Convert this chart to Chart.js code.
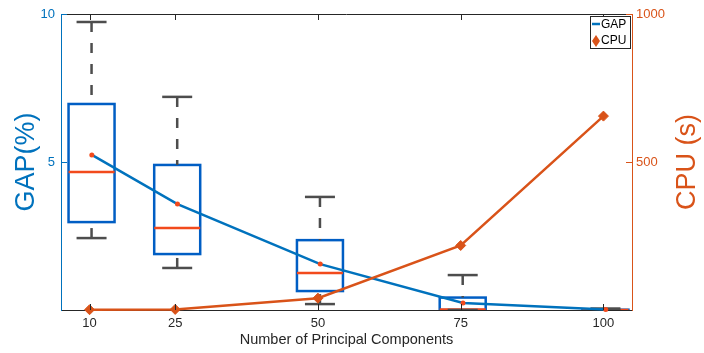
<!DOCTYPE html>
<html>
<head>
<meta charset="utf-8">
<script src="https://cdn.jsdelivr.net/npm/chart.js@4.4.1/dist/chart.umd.min.js"></script>
<style>
  html, body { margin: 0; padding: 0; background: #fff; }
  canvas { display: block; }
</style>
</head>
<body>
<canvas id="myChart" width="704" height="353"></canvas>
<script>
/* global Chart */
const FONT = "'Liberation Sans', Arial, Helvetica, sans-serif";
const BLUE = '#0072BD';
const ORANGE = '#D95319';
const BOXBLUE = '#005ec4';
const MEDRED = '#f24a1c';
const WHISKER = '#4d4d4d';
const AXISGRAY = '#262626';

// data
const components = [10, 25, 50, 75, 100];
const gapMax = [9.73, 7.2, 3.82, 1.18, 0.05];
const gapQ3 = [6.96, 4.9, 2.36, 0.42, 0.01];
const gapMedian = [4.66, 2.77, 1.25, 0.02, 0];
const gapQ1 = [2.97, 1.89, 0.64, 0, 0];
const gapMin = [2.43, 1.42, 0.2, 0, 0];
const gapMean = [5.24, 3.58, 1.55, 0.24, 0.02];
const cpuTime = [1, 2, 40, 218, 655];

const xTicks = [10, 25, 50, 75, 100];
const gapTicks = [5, 10];
const cpuTicks = [500, 1000];

function hLine(ctx, x1, x2, y) {
  ctx.beginPath();
  ctx.moveTo(x1, y);
  ctx.lineTo(x2, y);
  ctx.stroke();
}

function vLine(ctx, x, y1, y2) {
  ctx.beginPath();
  ctx.moveTo(x, y1);
  ctx.lineTo(x, y2);
  ctx.stroke();
}

const boxPlugin = {
  id: 'boxes',
  beforeDatasetsDraw(chart) {
    const { ctx, chartArea, scales } = chart;
    const x = scales.x;
    const y = scales.y;
    ctx.save();
    ctx.beginPath();
    ctx.rect(chartArea.left, chartArea.top - 2, chartArea.width, chartArea.height + 2);
    ctx.clip();
    components.forEach((c, i) => {
      const cx = x.getPixelForValue(c) + 2;
      const half = 23;
      const cap = 15;
      const yMax = y.getPixelForValue(gapMax[i]);
      const yQ3 = y.getPixelForValue(gapQ3[i]);
      const yMed = y.getPixelForValue(gapMedian[i]);
      const yQ1 = y.getPixelForValue(gapQ1[i]);
      const yMin = y.getPixelForValue(gapMin[i]);

      ctx.lineWidth = 2.5;
      ctx.strokeStyle = BOXBLUE;
      ctx.strokeRect(cx - half, yQ3, half * 2, yQ1 - yQ3);

      ctx.strokeStyle = MEDRED;
      hLine(ctx, cx - half, cx + half, yMed);

      ctx.strokeStyle = WHISKER;
      ctx.setLineDash([10, 11]);
      vLine(ctx, cx, yMax, yQ3);
      vLine(ctx, cx, yMin, yQ1);
      ctx.setLineDash([]);
      hLine(ctx, cx - cap, cx + cap, yMax);
      hLine(ctx, cx - cap, cx + cap, yMin);
    });
    ctx.restore();
  },
  afterDraw(chart) {
    const { ctx, chartArea, scales } = chart;
    const { left, right, top, bottom } = chartArea;
    ctx.save();

    // top border
    ctx.lineWidth = 1;
    ctx.strokeStyle = AXISGRAY;
    hLine(ctx, left, right, top + 0.5);

    // inward tick marks
    xTicks.forEach((t) => {
      const px = Math.round(scales.x.getPixelForValue(t)) + 0.5;
      vLine(ctx, px, top, top + 6);
      vLine(ctx, px, bottom, bottom - 6);
    });
    ctx.strokeStyle = BLUE;
    gapTicks.forEach((t) => {
      const py = Math.round(scales.y.getPixelForValue(t)) + 0.5;
      hLine(ctx, left, left + 6, py);
    });
    ctx.strokeStyle = ORANGE;
    cpuTicks.forEach((t) => {
      const py = Math.round(scales.y1.getPixelForValue(t)) + 0.5;
      hLine(ctx, right, right - 6, py);
    });

    // axis titles
    ctx.textAlign = 'center';
    ctx.textBaseline = 'middle';
    const midY = (top + bottom) / 2;
    ctx.font = `27px ${FONT}`;
    ctx.fillStyle = BLUE;
    ctx.save();
    ctx.translate(27, midY);
    ctx.rotate(-Math.PI / 2);
    ctx.fillText('GAP(%)', 0, 0);
    ctx.restore();
    ctx.fillStyle = ORANGE;
    ctx.save();
    ctx.translate(688, midY);
    ctx.rotate(-Math.PI / 2);
    ctx.fillText('CPU (s)', 0, 0);
    ctx.restore();

    ctx.font = `14.5px ${FONT}`;
    ctx.fillStyle = AXISGRAY;
    ctx.fillText('Number of Principal Components', (left + right) / 2, 340);

    // legend
    const lx = 590;
    const ly = 16;
    ctx.fillStyle = '#fff';
    ctx.fillRect(lx, ly, 40, 32);
    ctx.strokeStyle = AXISGRAY;
    ctx.lineWidth = 1;
    ctx.strokeRect(lx + 0.5, ly + 0.5, 40, 32);
    ctx.strokeStyle = BLUE;
    ctx.lineWidth = 2.5;
    hLine(ctx, lx + 2, lx + 10, ly + 8);
    ctx.fillStyle = ORANGE;
    ctx.beginPath();
    ctx.moveTo(lx + 6, ly + 19);
    ctx.lineTo(lx + 10, ly + 25);
    ctx.lineTo(lx + 6, ly + 31);
    ctx.lineTo(lx + 2, ly + 25);
    ctx.closePath();
    ctx.fill();
    ctx.fillStyle = '#000';
    ctx.font = `12px ${FONT}`;
    ctx.textAlign = 'left';
    ctx.fillText('GAP', lx + 11, ly + 9);
    ctx.fillText('CPU', lx + 11, ly + 25);

    ctx.restore();
  },
};

const chartElement = document.getElementById('myChart').getContext('2d');

const plainLabel = (value) => String(value);

const chart = new Chart(chartElement, {
  data: {
    datasets: [{
      type: 'line',
      label: 'CPU',
      data: components.map((c, i) => ({ x: c, y: cpuTime[i] })),
      xAxisID: 'x',
      yAxisID: 'y1',
      borderColor: ORANGE,
      borderWidth: 2.5,
      backgroundColor: ORANGE,
      pointStyle: 'rectRot',
      pointRadius: 5,
      pointBorderWidth: 1,
      pointBorderColor: ORANGE,
      pointBackgroundColor: ORANGE,
      tension: 0,
      clip: false,
      order: 0,
    }, {
      type: 'line',
      label: 'GAP',
      data: components.map((c, i) => ({ x: c + 0.4, y: gapMean[i] })),
      xAxisID: 'x',
      yAxisID: 'y',
      borderColor: BLUE,
      borderWidth: 2.5,
      pointRadius: 2.5,
      pointBorderWidth: 0,
      pointBackgroundColor: MEDRED,
      tension: 0,
      clip: false,
      order: 1,
    }],
  },
  options: {
    responsive: false,
    animation: false,
    devicePixelRatio: 1,
    layout: { padding: { top: 14, left: 0, right: 0, bottom: 0 } },
    plugins: {
      legend: { display: false },
      tooltip: { enabled: false },
    },
    scales: {
      x: {
        type: 'linear',
        min: 5,
        max: 105,
        afterBuildTicks: (scale) => { scale.ticks = xTicks.map((v) => ({ value: v })); },
        afterFit: (scale) => { scale.height = 43; },
        grid: { display: false, drawTicks: false, tickLength: 0 },
        border: { display: true, color: AXISGRAY, width: 1 },
        ticks: { color: AXISGRAY, font: { family: FONT, size: 13 }, padding: 6, maxRotation: 0, callback: plainLabel },
      },
      y: {
        type: 'linear',
        position: 'left',
        min: 0,
        max: 10,
        afterBuildTicks: (scale) => { scale.ticks = gapTicks.map((v) => ({ value: v })); },
        afterFit: (scale) => { scale.width = 61; },
        grid: { display: false, drawTicks: false, tickLength: 0 },
        border: { display: true, color: BLUE, width: 1 },
        ticks: { color: BLUE, font: { family: FONT, size: 13 }, padding: 6, callback: plainLabel },
      },
      y1: {
        type: 'linear',
        position: 'right',
        min: 0,
        max: 1000,
        afterBuildTicks: (scale) => { scale.ticks = cpuTicks.map((v) => ({ value: v })); },
        afterFit: (scale) => { scale.width = 72; },
        grid: { display: false, drawTicks: false, tickLength: 0 },
        border: { display: true, color: ORANGE, width: 1 },
        ticks: { color: ORANGE, font: { family: FONT, size: 13 }, padding: 4, callback: plainLabel },
      },
    },
  },
  plugins: [boxPlugin],
});
</script>
</body>
</html>
